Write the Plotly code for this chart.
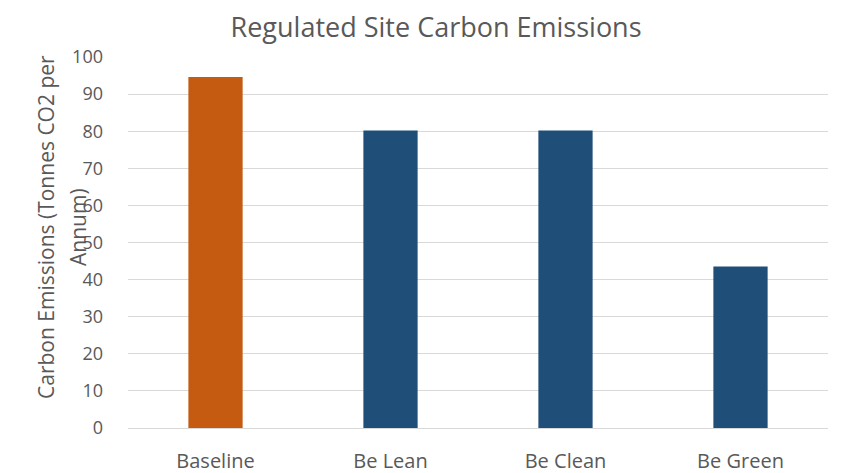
import plotly.graph_objects as go

categories = ["Baseline", "Be Lean", "Be Clean", "Be Green"]
values = [94.6, 80.2, 80.2, 43.5]
colors = ["#C55A11", "#1F4E79", "#1F4E79", "#1F4E79"]
y_ticks = [0, 10, 20, 30, 40, 50, 60, 70, 80, 90, 100]
title_line1 = "Carbon Emissions (Tonnes CO2 per"
title_line2 = "Annum)"

fig = go.Figure(go.Bar(x=categories, y=values, marker=dict(color=colors, line=dict(width=0)), width=0.31))

FONT = "Open Sans"
GREY = "#595959"

fig.update_layout(
    width=850, height=473,
    margin=dict(l=128, r=22, t=57, b=45),
    paper_bgcolor="white", plot_bgcolor="white",
    font=dict(family=FONT, color=GREY, size=18),
    title=dict(text="Regulated Site Carbon Emissions", x=0.513, xanchor="center", y=0.941, yanchor="middle",
               font=dict(size=27, color=GREY, family=FONT)),
    showlegend=False,
    xaxis=dict(showgrid=False, showline=True, linecolor="#d9d9d9", ticks="", ticklabelstandoff=15,
               automargin=False, tickfont=dict(size=20, color=GREY)),
    yaxis=dict(range=[0, 100], tickvals=y_ticks, showgrid=True, gridcolor="#d9d9d9", zeroline=False,
               ticks="", ticklabelstandoff=24, automargin=False, tickfont=dict(size=18, color=GREY)),
    annotations=[
        dict(text=title_line1, textangle=-90, xref="paper", yref="paper",
             x=-0.117, y=0.542, xanchor="center", yanchor="middle", showarrow=False,
             font=dict(size=21, color=GREY, family=FONT)),
        dict(text=title_line2, textangle=-90, xref="paper", yref="paper",
             x=-0.0714, y=0.542, xanchor="center", yanchor="middle", showarrow=False,
             font=dict(size=21, color=GREY, family=FONT)),
    ],
)

fig.write_html("out.html")
